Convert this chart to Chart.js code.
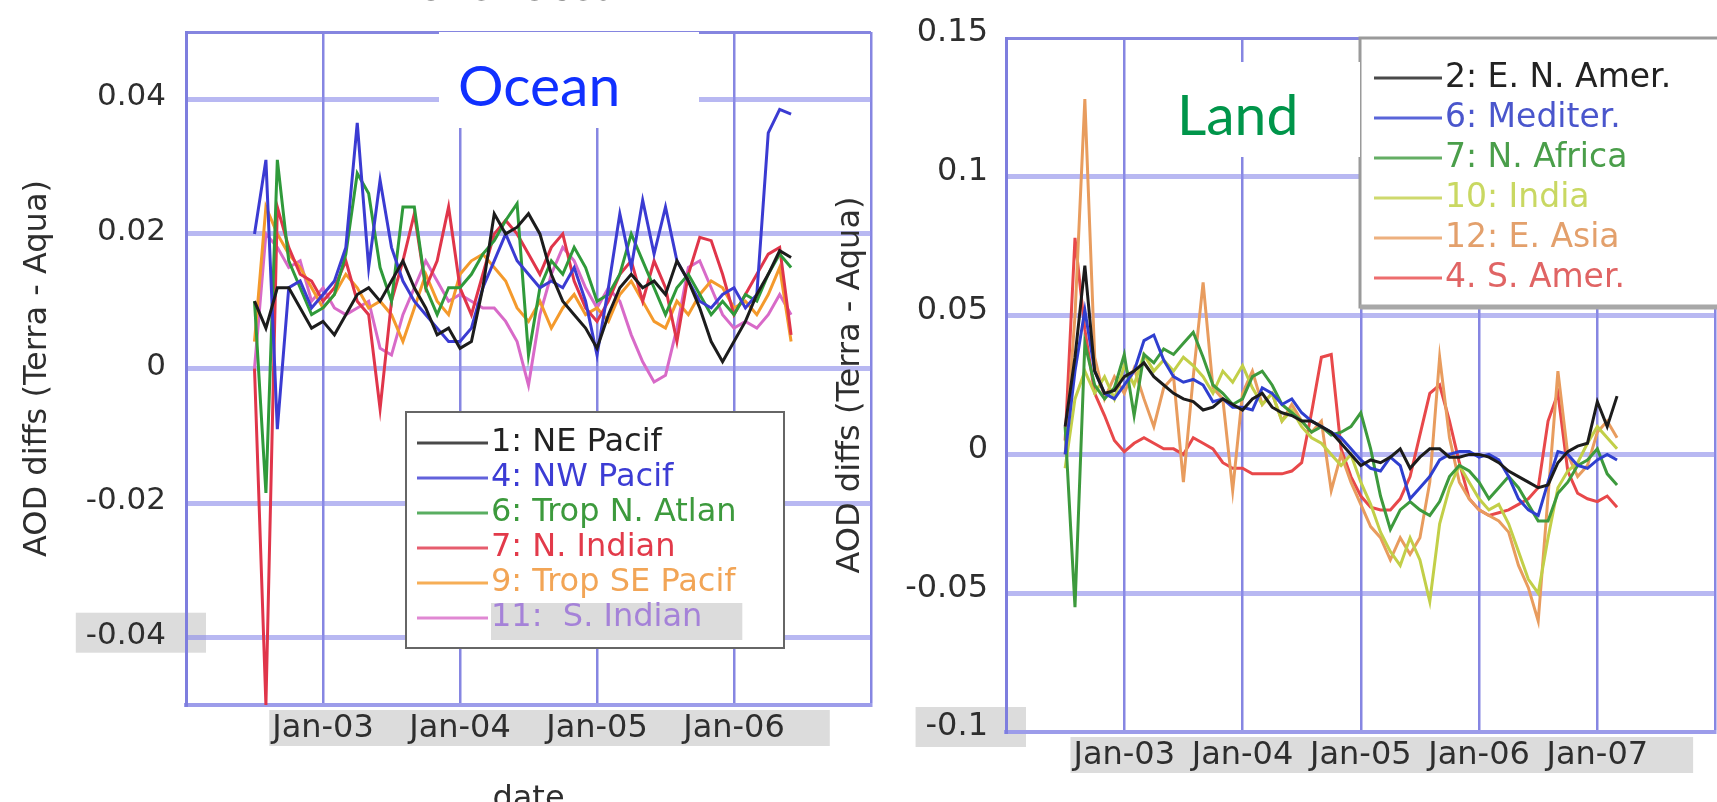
<!DOCTYPE html>
<html>
<head>
<meta charset="utf-8">
<title>AOD differences (Terra - Aqua) over ocean and land regions</title>
<script src="https://cdn.jsdelivr.net/npm/chart.js@4.4.1/dist/chart.umd.min.js"></script>
<style>
  html, body { margin: 0; padding: 0; background: #ffffff; width: 1717px; height: 802px; overflow: hidden; }
  .panel { position: absolute; }
  #oceanPanel { left: 0; top: -40px; width: 890px; height: 880px; }
  #landPanel { left: 820px; top: -40px; width: 900px; height: 880px; }
</style>
</head>
<body>
<div class="panel" id="oceanPanel"><canvas id="oceanChart"></canvas></div>
<div class="panel" id="landPanel"><canvas id="landChart"></canvas></div>
<script>
// ---------- Ocean regions: monthly Terra - Aqua AOD differences ----------
const oceanMonths = [
  '2002-07','2002-08','2002-09','2002-10','2002-11','2002-12',
  '2003-01','2003-02','2003-03','2003-04','2003-05','2003-06','2003-07','2003-08','2003-09','2003-10','2003-11','2003-12',
  '2004-01','2004-02','2004-03','2004-04','2004-05','2004-06','2004-07','2004-08','2004-09','2004-10','2004-11','2004-12',
  '2005-01','2005-02','2005-03','2005-04','2005-05','2005-06','2005-07','2005-08','2005-09','2005-10','2005-11','2005-12',
  '2006-01','2006-02','2006-03','2006-04','2006-05','2006-06'
];
const nePacif = [0.010, 0.006, 0.012, 0.012, 0.009, 0.006, 0.007, 0.005, 0.008, 0.011, 0.012, 0.010,
  0.013, 0.016, 0.012, 0.009, 0.005, 0.006, 0.003, 0.004, 0.012, 0.023, 0.020, 0.021,
  0.023, 0.020, 0.014, 0.010, 0.008, 0.006, 0.003, 0.008, 0.012, 0.014, 0.012, 0.013,
  0.011, 0.016, 0.013, 0.009, 0.004, 0.001, 0.004, 0.007, 0.011, 0.014, 0.0175, 0.0165];
const nwPacif = [0.020, 0.031, -0.009, 0.012, 0.013, 0.009, 0.011, 0.013, 0.018, 0.0365, 0.015, 0.028,
  0.018, 0.013, 0.010, 0.008, 0.006, 0.004, 0.004, 0.006, 0.012, 0.016, 0.020, 0.016,
  0.014, 0.012, 0.013, 0.012, 0.015, 0.010, 0.002, 0.012, 0.023, 0.015, 0.025, 0.017,
  0.024, 0.016, 0.013, 0.010, 0.009, 0.011, 0.012, 0.009, 0.011, 0.035, 0.0385, 0.0378];
const tropNAtlan = [0.010, -0.0185, 0.031, 0.016, 0.012, 0.008, 0.009, 0.011, 0.017, 0.029, 0.026, 0.015,
  0.010, 0.024, 0.024, 0.012, 0.008, 0.012, 0.012, 0.014, 0.017, 0.019, 0.022, 0.0245,
  0.002, 0.012, 0.016, 0.014, 0.018, 0.015, 0.010, 0.011, 0.014, 0.020, 0.016, 0.012,
  0.008, 0.012, 0.014, 0.011, 0.008, 0.010, 0.008, 0.011, 0.010, 0.014, 0.017, 0.015];
const nIndian = [0.000, -0.050, 0.024, 0.018, 0.014, 0.013, 0.010, 0.012, 0.016, 0.010, 0.008, -0.006,
  0.010, 0.016, 0.023, 0.012, 0.016, 0.024, 0.012, 0.008, 0.014, 0.020, 0.022, 0.020,
  0.017, 0.014, 0.018, 0.020, 0.013, 0.009, 0.007, 0.010, 0.014, 0.016, 0.010, 0.016,
  0.012, 0.004, 0.014, 0.0195, 0.019, 0.014, 0.008, 0.011, 0.014, 0.017, 0.018, 0.005];
const tropSEPacif = [0.004, 0.024, 0.020, 0.017, 0.015, 0.012, 0.009, 0.011, 0.014, 0.012, 0.009, 0.010,
  0.008, 0.004, 0.009, 0.014, 0.010, 0.008, 0.014, 0.016, 0.017, 0.015, 0.013, 0.009,
  0.007, 0.010, 0.006, 0.009, 0.011, 0.008, 0.009, 0.007, 0.011, 0.013, 0.010, 0.007,
  0.006, 0.010, 0.008, 0.011, 0.013, 0.012, 0.009, 0.010, 0.008, 0.011, 0.015, 0.004];
const sIndian = [0.000, 0.020, 0.018, 0.015, 0.016, 0.010, 0.012, 0.009, 0.008, 0.009, 0.010, 0.003,
  0.002, 0.008, 0.012, 0.016, 0.013, 0.010, 0.011, 0.010, 0.009, 0.009, 0.007, 0.004,
  -0.0025, 0.008, 0.014, 0.018, 0.016, 0.012, 0.009, 0.012, 0.010, 0.005, 0.001, -0.002,
  -0.001, 0.006, 0.015, 0.016, 0.012, 0.008, 0.006, 0.007, 0.006, 0.008, 0.011, 0.008];

const oceanNames = ['1: NE Pacif', '4: NW Pacif', '6: Trop N. Atlan', '7: N. Indian', '9: Trop SE Pacif', '11:  S. Indian'];
const oceanXTicks = [0, 12, 24, 36, 48, 60];
const oceanXTickLabels = ['', 'Jan-03', 'Jan-04', 'Jan-05', 'Jan-06', ''];
const oceanYTicks = [-0.05, -0.04, -0.02, 0, 0.02, 0.04, 0.05];
const oceanYTickLabels = ['', '-0.04', '-0.02', '0', '0.02', '0.04', ''];

// ---------- Land regions ----------
const landMonths = [
  '2002-07','2002-08','2002-09','2002-10','2002-11','2002-12',
  '2003-01','2003-02','2003-03','2003-04','2003-05','2003-06','2003-07','2003-08','2003-09','2003-10','2003-11','2003-12',
  '2004-01','2004-02','2004-03','2004-04','2004-05','2004-06','2004-07','2004-08','2004-09','2004-10','2004-11','2004-12',
  '2005-01','2005-02','2005-03','2005-04','2005-05','2005-06','2005-07','2005-08','2005-09','2005-10','2005-11','2005-12',
  '2006-01','2006-02','2006-03','2006-04','2006-05','2006-06','2006-07','2006-08','2006-09','2006-10','2006-11','2006-12',
  '2007-01','2007-02','2007-03'
];
const eNAmer = [0.010, 0.035, 0.068, 0.030, 0.022, 0.023, 0.028, 0.030, 0.033, 0.028, 0.025, 0.022,
  0.020, 0.019, 0.016, 0.017, 0.020, 0.018, 0.016, 0.020, 0.022, 0.017, 0.015, 0.014,
  0.012, 0.012, 0.010, 0.008, 0.004, 0.000, -0.004, -0.002, -0.003, -0.001, 0.002, -0.005,
  -0.001, 0.002, 0.002, -0.001, -0.001, 0.000, 0.000, -0.001, -0.003, -0.006, -0.008, -0.010,
  -0.012, -0.011, -0.003, 0.001, 0.003, 0.004, 0.019, 0.010, 0.021];
const mediter = [0.000, 0.030, 0.052, 0.030, 0.022, 0.020, 0.025, 0.030, 0.041, 0.043, 0.034, 0.028,
  0.026, 0.027, 0.025, 0.019, 0.020, 0.017, 0.017, 0.016, 0.024, 0.022, 0.018, 0.020,
  0.015, 0.012, 0.010, 0.008, 0.006, 0.002, -0.002, -0.005, -0.006, -0.001, -0.004, -0.016,
  -0.012, -0.008, -0.002, 0.000, 0.001, 0.001, -0.001, 0.000, -0.002, -0.008, -0.016, -0.020,
  -0.022, -0.010, 0.001, 0.000, -0.004, -0.005, -0.002, 0.000, -0.002];
const nAfrica = [0.010, -0.055, 0.040, 0.025, 0.020, 0.024, 0.036, 0.014, 0.036, 0.033, 0.038, 0.036,
  0.040, 0.044, 0.035, 0.025, 0.022, 0.018, 0.020, 0.028, 0.030, 0.025, 0.018, 0.015,
  0.012, 0.008, 0.010, 0.007, 0.008, 0.010, 0.015, 0.002, -0.015, -0.027, -0.020, -0.017,
  -0.020, -0.022, -0.017, -0.008, -0.004, -0.006, -0.010, -0.016, -0.012, -0.008, -0.012, -0.018,
  -0.024, -0.024, -0.014, -0.010, -0.004, -0.002, 0.002, -0.007, -0.011];
const india = [-0.005, 0.020, 0.030, 0.022, 0.028, 0.020, 0.032, 0.025, 0.036, 0.030, 0.034, 0.030,
  0.035, 0.032, 0.028, 0.022, 0.030, 0.026, 0.032, 0.024, 0.018, 0.022, 0.012, 0.016,
  0.010, 0.006, 0.004, 0.000, -0.004, 0.000, -0.010, -0.018, -0.028, -0.035, -0.040, -0.030,
  -0.038, -0.053, -0.025, -0.012, -0.004, -0.010, -0.016, -0.020, -0.018, -0.025, -0.035, -0.045,
  -0.050, -0.030, -0.012, -0.006, -0.003, 0.004, 0.010, 0.006, 0.002];
const eAsia = [0.000, 0.050, 0.128, 0.035, 0.020, 0.028, 0.022, 0.031, 0.020, 0.010, 0.024, 0.028,
  -0.010, 0.028, 0.062, 0.024, 0.020, -0.013, 0.022, 0.030, 0.018, 0.022, 0.012, 0.018,
  0.012, 0.008, 0.012, -0.013, 0.000, -0.010, -0.018, -0.026, -0.030, -0.038, -0.030, -0.036,
  -0.030, -0.010, 0.035, 0.006, -0.010, -0.016, -0.020, -0.022, -0.024, -0.028, -0.040, -0.048,
  -0.060, -0.015, 0.030, 0.000, -0.008, -0.004, 0.008, 0.012, 0.006];
const sAmer = [0.005, 0.078, 0.045, 0.022, 0.014, 0.005, 0.001, 0.004, 0.006, 0.004, 0.002, 0.002,
  0.000, 0.006, 0.004, 0.002, -0.003, -0.005, -0.005, -0.007, -0.007, -0.007, -0.007, -0.006,
  -0.003, 0.015, 0.035, 0.036, 0.002, -0.008, -0.015, -0.019, -0.020, -0.020, -0.016, -0.008,
  0.007, 0.022, 0.025, 0.012, -0.003, -0.016, -0.020, -0.022, -0.021, -0.020, -0.018, -0.016,
  -0.012, 0.012, 0.022, -0.006, -0.014, -0.016, -0.017, -0.015, -0.019];

const landNames = ['2: E. N. Amer.', '6: Mediter.', '7: N. Africa', '10: India', '12: E. Asia', '4. S. Amer.'];
const landXTicks = [0, 12, 24, 36, 48, 60, 72];
const landXTickLabels = ['', 'Jan-03', 'Jan-04', 'Jan-05', 'Jan-06', 'Jan-07', ''];
const landYTicks = [-0.1, -0.05, 0, 0.05, 0.1, 0.15];
const landYTickLabels = ['-0.1', '-0.05', '0', '0.05', '0.1', '0.15'];

// ---------- helpers ----------
const FONT = '"DejaVu Sans", "Liberation Sans", sans-serif';
const TAG_FONT = 'Lato, "Open Sans", sans-serif';

// months counted from Jan 2002 give the position on the linear time axis
function monthOffset(label) {
  const [y, m] = label.split('-').map(Number);
  return (y - 2002) * 12 + (m - 1);
}
function toPoints(months, values) {
  return values.map((v, i) => ({ x: monthOffset(months[i]), y: v }));
}
function line(label, months, values, color) {
  return { label, data: toPoints(months, values), borderColor: color, backgroundColor: color,
           borderWidth: 3, pointRadius: 0, tension: 0, fill: false };
}

// light grey patches behind the date labels and the lowest value label
const labelShade = {
  id: 'labelShade',
  beforeDraw(chart, _args, o) {
    const { ctx } = chart;
    const xs = chart.scales.x, ys = chart.scales.y;
    ctx.save();
    ctx.fillStyle = o.color;
    ctx.font = Chart.helpers.toFont(xs.options.ticks.font).string;
    const first = xs.ticks[o.xFrom], last = xs.ticks[o.xTo];
    const x0 = xs.getPixelForValue(first.value) - ctx.measureText(first.label).width / 2 - 3;
    const x1 = xs.getPixelForValue(last.value) + ctx.measureText(last.label).width / 2 + 45;
    ctx.fillRect(x0, xs.top + 5, x1 - x0, 36);
    ctx.font = Chart.helpers.toFont(ys.options.ticks.font).string;
    const t = ys.ticks[o.yIndex];
    const w = ctx.measureText(t.label).width;
    const py = ys.getPixelForValue(t.value);
    const pad = ys.options.ticks.padding;
    const lx = ys.right - pad - w - 10;
    ctx.fillRect(lx, py - 25, w + 10 + pad + 20, 40);
    ctx.restore();
  }
};

// boxed legend laid over the plot area
const insetLegend = {
  id: 'insetLegend',
  afterDraw(chart, _args, o) {
    const { ctx, chartArea: a } = chart;
    const L = a.left + o.left, T = a.top + o.top;
    ctx.save();
    ctx.fillStyle = '#ffffff';
    ctx.fillRect(L, T, o.width, o.height);
    ctx.strokeStyle = o.frameColor;
    ctx.lineWidth = o.frameWidth;
    ctx.strokeRect(L, T, o.width, o.height);
    if (o.baseWidth) {
      ctx.strokeStyle = o.baseColor;
      ctx.lineWidth = o.baseWidth;
      ctx.beginPath(); ctx.moveTo(L, T + o.height); ctx.lineTo(L + o.width, T + o.height); ctx.stroke();
    }
    ctx.font = o.font;
    ctx.textBaseline = 'middle';
    ctx.textAlign = 'left';
    chart.data.datasets.forEach((ds, i) => {
      const y = T + o.firstRow + i * o.rowGap;
      const tx = L + o.textStart;
      if (o.shadeRows.includes(i)) {
        const w = ctx.measureText(ds.label).width;
        ctx.fillStyle = o.shadeColor;
        ctx.fillRect(tx, y - 15, w + 40, 37);
      }
      ctx.strokeStyle = ds.borderColor;
      ctx.globalAlpha = 0.8;
      ctx.lineWidth = 3;
      ctx.beginPath(); ctx.moveTo(L + o.lineStart, y); ctx.lineTo(L + o.lineStart + o.lineLength, y); ctx.stroke();
      ctx.globalAlpha = 1;
      ctx.fillStyle = o.textColors[i];
      ctx.fillText(ds.label, tx, y);
    });
    ctx.restore();
  }
};

// white tag with a large coloured word naming the panel
const areaTag = {
  id: 'areaTag',
  afterDraw(chart, _args, o) {
    const { ctx, chartArea: a } = chart;
    const [bx, by, bw, bh] = o.box;
    const x0 = a.left + bx, y0 = a.top + by;
    ctx.save();
    ctx.fillStyle = '#ffffff';
    ctx.fillRect(x0, y0, bw, bh);
    ctx.font = o.font;
    ctx.fillStyle = o.color;
    ctx.textBaseline = 'alphabetic';
    ctx.textAlign = 'left';
    ctx.fillText(o.text, x0 + o.textX, y0 + o.textY);
    ctx.restore();
  }
};

const VERT_GRID = '#8686e2';
const HORIZ_GRID = 'rgba(140,140,234,0.62)';
const EDGE = '#8585e0';

function xAxis(tickValues, tickLabels, fontSize, pad, height, title) {
  return {
    type: 'linear',
    min: tickValues[0],
    max: tickValues[tickValues.length - 1],
    afterBuildTicks: s => { s.ticks = tickValues.map(v => ({ value: v })); },
    afterFit: s => { s.height = height; },
    ticks: { autoSkip: false, maxRotation: 0, padding: pad, color: '#2e2e2e',
             font: { family: FONT, size: fontSize }, callback: (v, i) => tickLabels[i] },
    grid: { drawTicks: false, color: VERT_GRID, lineWidth: 2.5 },
    border: { color: '#9c9cea', width: 4 },
    title: title
  };
}
function yAxis(tickValues, tickLabels, fontSize, pad, offset, titlePad) {
  const last = tickValues.length - 1;
  return {
    type: 'linear',
    min: tickValues[0],
    max: tickValues[last],
    afterBuildTicks: s => { s.ticks = tickValues.map(v => ({ value: v })); },
    afterFit: s => { s.width = 186; },
    ticks: { autoSkip: false, padding: pad, labelOffset: offset, color: '#2e2e2e',
             font: { family: FONT, size: fontSize }, callback: (v, i) => tickLabels[i] },
    grid: {
      drawTicks: false,
      color: c => (c.index === 0 || c.index === last) ? EDGE : HORIZ_GRID,
      lineWidth: c => (c.index === 0 || c.index === last) ? 3 : 5
    },
    border: { color: '#7e7ede', width: 3 },
    title: { display: true, text: 'AOD diffs (Terra - Aqua)', color: '#2e2e2e',
             font: { family: FONT, size: 32 }, padding: { top: titlePad, bottom: 0 } }
  };
}

// ---------- Ocean chart ----------
new Chart(document.getElementById('oceanChart'), {
  type: 'line',
  data: {
    datasets: [
      line(oceanNames[0], oceanMonths, nePacif, '#1c1c1c'),
      line(oceanNames[1], oceanMonths, nwPacif, '#3b3bd2'),
      line(oceanNames[2], oceanMonths, tropNAtlan, '#2f9a3a'),
      line(oceanNames[3], oceanMonths, nIndian, '#e0354a'),
      line(oceanNames[4], oceanMonths, tropSEPacif, '#f49a2c'),
      line(oceanNames[5], oceanMonths, sIndian, '#d86ac8')
    ]
  },
  options: {
    responsive: true,
    maintainAspectRatio: false,
    animation: false,
    events: [],
    layout: { padding: { left: 0, right: 19, top: 0, bottom: 0 } },
    scales: {
      x: xAxis(oceanXTicks, oceanXTickLabels, 32, 4.3, 135,
               { display: true, text: 'date', color: '#2e2e2e', font: { family: FONT, size: 32 },
                 padding: { top: 0, bottom: 20.8 } }),
      y: yAxis(oceanYTicks, oceanYTickLabels, 31, 20, -2, 18)
    },
    plugins: {
      legend: { display: false },
      tooltip: { enabled: false },
      title: { display: true, text: 'Over Ocean', color: '#333', fullSize: false,
               font: { family: FONT, size: 38, weight: 'normal' }, padding: { top: 7, bottom: 19.4 } },
      labelShade: { color: '#dcdcdc', xFrom: 1, xTo: 4, yIndex: 1 },
      insetLegend: {
        left: 220, top: 380, width: 378, height: 236,
        firstRow: 31, rowGap: 35, lineStart: 11, lineLength: 71, textStart: 85,
        font: '32px ' + FONT, frameColor: '#666666', frameWidth: 2,
        textColors: ['#222222', '#3c3cd4', '#3d9a3d', '#e23a4a', '#f2a556', '#a582d8'],
        shadeRows: [5], shadeColor: '#dcdcdc'
      },
      areaTag: { text: 'Ocean', color: '#1030ff', font: '57px ' + TAG_FONT,
                 box: [253, 0, 260, 96], textX: 19, textY: 74 }
    }
  },
  plugins: [labelShade, insetLegend, areaTag]
});

// ---------- Land chart ----------
new Chart(document.getElementById('landChart'), {
  type: 'line',
  data: {
    datasets: [
      line(landNames[0], landMonths, eNAmer, '#1c1c1c'),
      line(landNames[1], landMonths, mediter, '#2f3fcf'),
      line(landNames[2], landMonths, nAfrica, '#3d9a3d'),
      line(landNames[3], landMonths, india, '#c2cf48'),
      line(landNames[4], landMonths, eAsia, '#e89c5e'),
      line(landNames[5], landMonths, sAmer, '#e8484a')
    ]
  },
  options: {
    responsive: true,
    maintainAspectRatio: false,
    animation: false,
    events: [],
    layout: { padding: { left: 0, right: 4, top: 78, bottom: 0 } },
    scales: {
      x: xAxis(landXTicks, landXTickLabels, 32, 4.4, 108, { display: false }),
      y: yAxis(landYTicks, landYTickLabels, 32, 18, -5, 11.8)
    },
    plugins: {
      legend: { display: false },
      tooltip: { enabled: false },
      labelShade: { color: '#dcdcdc', xFrom: 1, xTo: 5, yIndex: 0 },
      insetLegend: {
        left: 354, top: 0, width: 420, height: 269,
        firstRow: 40, rowGap: 40, lineStart: 14, lineLength: 68, textStart: 85,
        font: '33px ' + FONT, frameColor: '#9a9a9a', frameWidth: 3,
        baseColor: '#a8a8a8', baseWidth: 5,
        textColors: ['#222222', '#4a56cc', '#4a9e4a', '#c9d862', '#e3a06c', '#e06464'],
        shadeRows: [], shadeColor: '#dcdcdc'
      },
      areaTag: { text: 'Land', color: '#00954a', font: '57px ' + TAG_FONT,
                 box: [160, 24, 194, 95], textX: 11, textY: 73 }
    }
  },
  plugins: [labelShade, insetLegend, areaTag]
});
</script>
</body>
</html>
